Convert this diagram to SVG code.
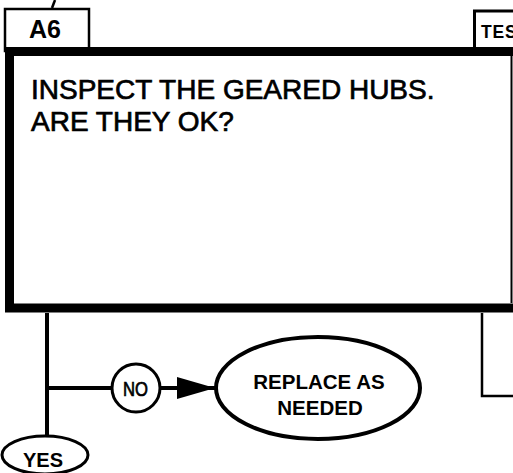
<svg xmlns="http://www.w3.org/2000/svg" width="513" height="473" viewBox="0 0 513 473">
<style>
text{font-family:"Liberation Sans",Arial,sans-serif;fill:#000}
.b{font-weight:bold}
.m{stroke:#000;stroke-width:0.7}
.ln{stroke:#000;fill:none}
</style>
<defs>
<marker id="ah" markerUnits="userSpaceOnUse" markerWidth="40" markerHeight="24" refX="38" refY="11" orient="auto">
<path d="M0,0 L38,11 L0,22 Z" fill="#000"/>
</marker>
</defs>
<rect width="513" height="473" fill="#fff"/>
<g id="connectors">
<path class="ln" stroke-width="2.5" d="M52,8 L55,0"/>
<path class="ln" stroke-width="4" d="M47,313 V436"/>
<path class="ln" stroke-width="4" d="M47,388 H112"/>
<path class="ln" stroke-width="4" d="M160,388 H215" marker-end="url(#ah)"/>
<path class="ln" stroke-width="2.5" d="M482,313 V396 H513"/>
</g>
<g id="tab-a6">
<rect x="5" y="9" width="84" height="42" fill="#fff" stroke="#000" stroke-width="2.5"/>
<text class="b" x="29" y="38" font-size="25">A6</text>
</g>
<g id="tab-tes">
<rect x="474.5" y="11" width="45" height="40" fill="#fff" stroke="#000" stroke-width="3"/>
<text class="b" x="481" y="38" font-size="17.5" letter-spacing="0.8">TES</text>
</g>
<g id="a6-box">
<path class="ln" stroke-width="9" d="M513,51.5 H9.5 V308 H513"/>
<path class="ln" stroke-width="2" stroke="#333" d="M511.5,56 V303"/>
<text class="m" x="31" y="99" font-size="28">INSPECT THE GEARED HUBS.</text>
<text class="m" x="31" y="131" font-size="28">ARE THEY OK?</text>
</g>
<g id="no">
<circle cx="136" cy="388" r="24" fill="#fff" stroke="#000" stroke-width="3"/>
<text class="m" x="123" y="396" font-size="20" stroke-width="0.6" textLength="25" lengthAdjust="spacingAndGlyphs">NO</text>
</g>
<g id="replace">
<ellipse cx="318" cy="388" rx="102" ry="51" fill="#fff" stroke="#000" stroke-width="4"/>
<text class="b" x="319" y="389" font-size="20.5" text-anchor="middle">REPLACE AS</text>
<text class="b" x="320" y="415" font-size="20.5" text-anchor="middle">NEEDED</text>
</g>
<g id="yes">
<ellipse cx="45" cy="455" rx="43" ry="19" fill="#fff" stroke="#000" stroke-width="3"/>
<text class="b" x="43" y="467" font-size="20" text-anchor="middle">YES</text>
</g>
</svg>
